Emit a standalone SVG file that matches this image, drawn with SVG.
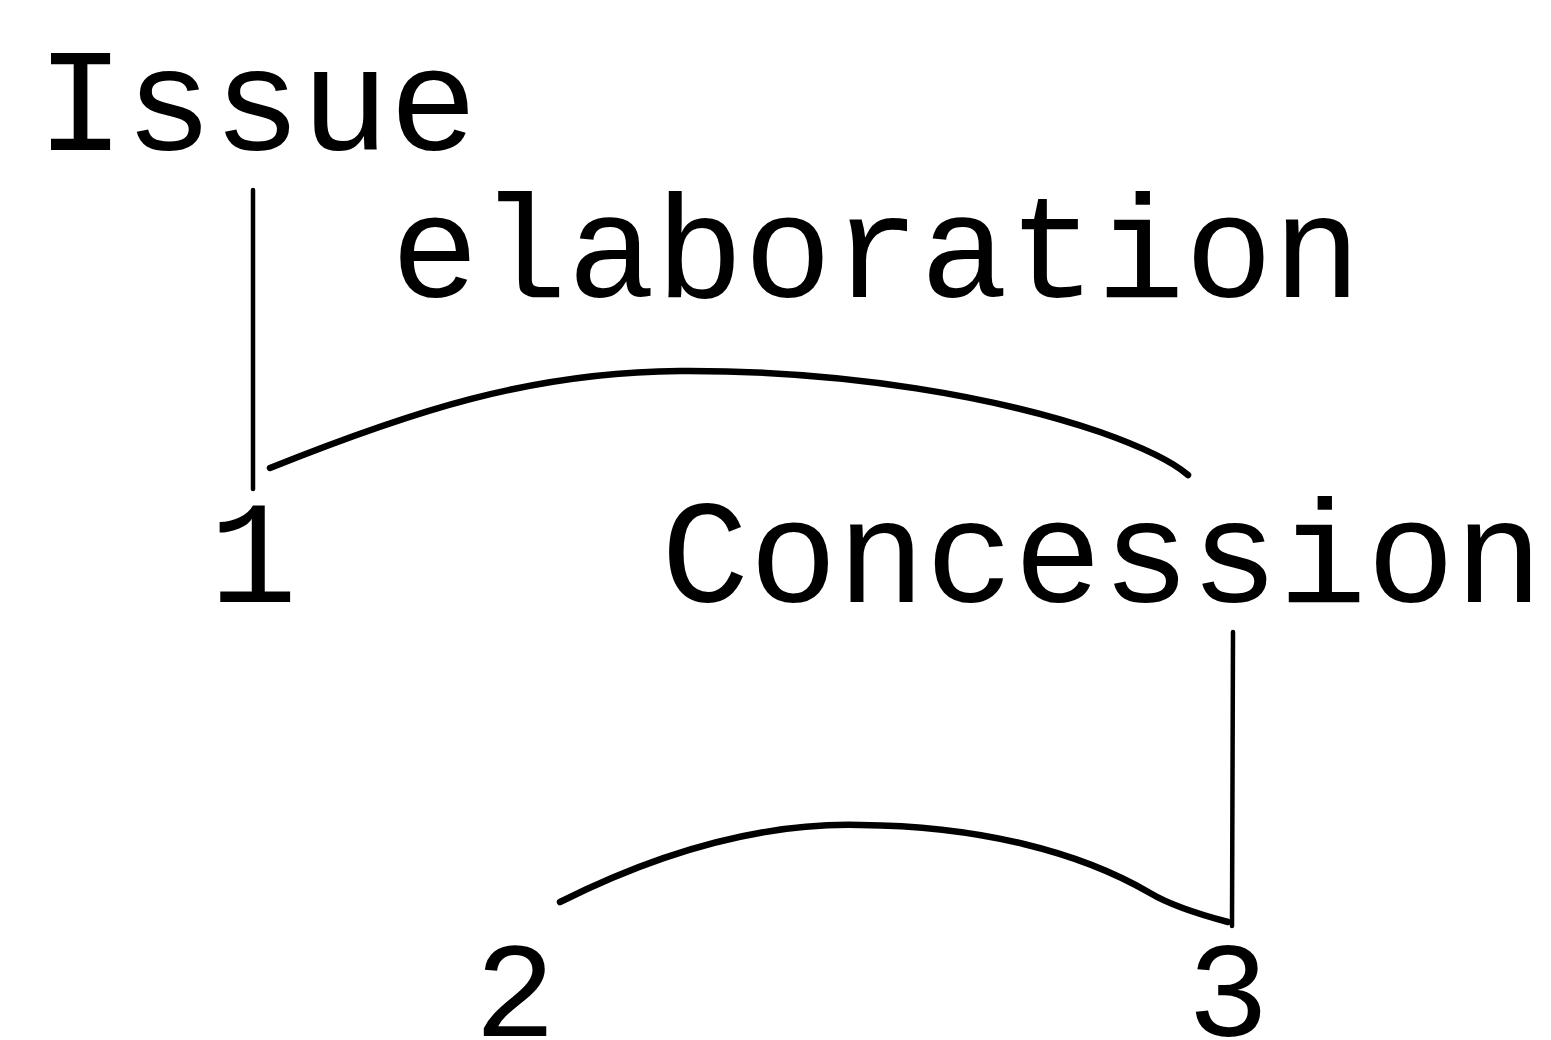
<svg xmlns="http://www.w3.org/2000/svg" width="1551" height="1040" viewBox="0 0 1551 1040">
<style>
text{font-family:"Liberation Mono","Courier New",monospace;font-size:147px;fill:#000;text-anchor:middle}
text.d{font-size:136px}
.c{fill:none;stroke:#000;stroke-linecap:round;stroke-linejoin:round}
.v{stroke-width:4.5}
.a{stroke-width:6.5}
</style>
<rect width="1551" height="1040" fill="#fff"/>
<g id="connectors">
<path class="c v" d="M253,190 L253,489"/>
<path class="c a" d="M270,468 C410,412 530,372 680,371 C850,370 1000,398 1100,432 Q1165,455 1188,475"/>
<path class="c v" d="M1233,632 L1232,926"/>
<path class="c a" d="M560,902 C680,842 780,823 860,825 C980,826 1080,852 1150,893 Q1175,908 1228,922"/>
</g>
<g id="node-issue"><text x="257" y="150">Issue</text></g>
<g id="label-elaboration"><text x="876" y="297">elaboration</text></g>
<g id="node-1"><text x="253" y="602">1</text></g>
<g id="node-concession"><text x="1102" y="602">Concession</text></g>
<g id="node-2"><text class="d" x="515" y="1036">2</text></g>
<g id="node-3"><text class="d" x="1228" y="1036">3</text></g>
</svg>
